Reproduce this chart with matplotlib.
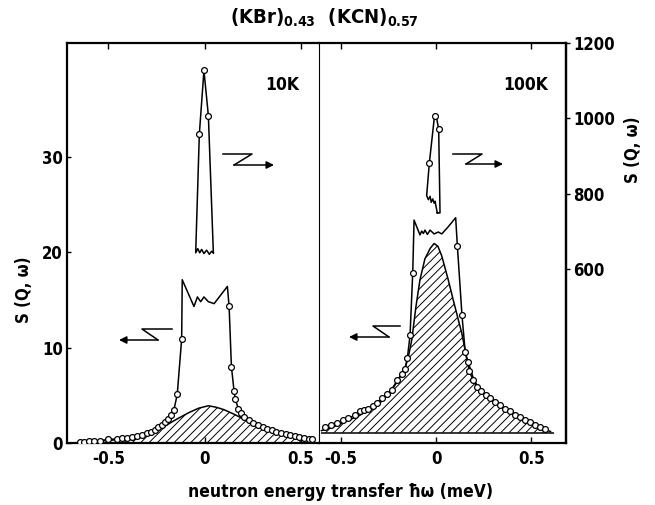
import matplotlib
matplotlib.use('Agg')
import matplotlib.pyplot as plt
from matplotlib.transforms import Affine2D

plt.rcParams['font.family'] = ['DejaVu Sans']
plt.rcParams['font.stretch'] = 'condensed'
plt.rcParams['font.weight'] = 'bold'
plt.rcParams['font.size'] = 12
plt.rcParams['mathtext.fontset'] = 'dejavusans'
plt.rcParams['mathtext.default'] = 'bf'
plt.rcParams['axes.unicode_minus'] = False
plt.rcParams['hatch.linewidth'] = 0.7

# ---------------- 10 K (left panel) ----------------
# measured points (circles), left axis units
c10_x = [-0.648, -0.626, -0.600, -0.575, -0.544, -0.501, -0.458, -0.431, -0.405,
         -0.379, -0.353, -0.327, -0.301, -0.279, -0.258, -0.240, -0.220, -0.205,
         -0.190, -0.174, -0.159, -0.142, -0.119,
         0.128, 0.140, 0.154, 0.160, 0.176, 0.190, 0.206, 0.230, 0.254, 0.278,
         0.302, 0.326, 0.350, 0.374, 0.398, 0.422, 0.446, 0.470, 0.494, 0.518,
         0.542, 0.560]
c10_y = [0.14, 0.14, 0.21, 0.21, 0.24, 0.38, 0.42, 0.49, 0.56,
         0.66, 0.73, 0.84, 1.01, 1.19, 1.36, 1.64, 1.90, 2.20,
         2.50, 2.90, 3.50, 5.10, 10.9,
         14.3, 8.0, 5.4, 4.6, 3.6, 3.1, 2.75, 2.4, 2.1, 1.85,
         1.65, 1.5, 1.35, 1.2, 1.05, 0.92, 0.82, 0.73, 0.64, 0.55,
         0.46, 0.38]
# broken-off top of the low curve (no circles)
cut10_x = [-0.116, -0.055, -0.037, -0.020, -0.003, 0.020, 0.050, 0.119]
cut10_y = [17.1, 14.3, 15.3, 14.8, 15.3, 14.8, 14.6, 16.4]
# quasielastic part (hatched)
q10_x = [-0.65, -0.55, -0.45, -0.38, -0.32, -0.26, -0.20, -0.14, -0.08, -0.03,
         0.02, 0.06, 0.10, 0.15, 0.20, 0.25, 0.30, 0.35, 0.40, 0.45, 0.50, 0.56]
q10_y = [0.10, 0.20, 0.35, 0.55, 0.80, 1.25, 1.85, 2.55, 3.20, 3.65,
         3.90, 3.75, 3.50, 3.05, 2.55, 2.05, 1.60, 1.20, 0.90, 0.65, 0.45, 0.30]
# elastic peak on the right scale
p10_x = [0.046, 0.037, 0.025, 0.011, -0.003, -0.015, -0.025, -0.035, -0.046,
         -0.027, -0.003, 0.020, 0.046]
p10_y = [643, 647, 639, 650, 641, 652, 643, 654, 643, 958, 1127, 1007, 643]
pc10_x = [-0.027, -0.003, 0.020]
pc10_y = [958, 1127, 1007]

# ---------------- 100 K (right panel) ----------------
c100_x = [-0.580, -0.550, -0.520, -0.485, -0.459, -0.424, -0.398, -0.375, -0.354,
          -0.330, -0.310, -0.284, -0.258, -0.232, -0.202, -0.180, -0.162, -0.150,
          -0.136, -0.122,
          0.112, 0.136, 0.153, 0.166, 0.174, 0.195, 0.213, 0.236, 0.260, 0.283,
          0.309, 0.335, 0.361, 0.387, 0.414, 0.440, 0.466, 0.492, 0.518, 0.545,
          0.571]
c100_y = [1.64, 1.90, 2.06, 2.40, 2.60, 2.90, 3.30, 3.45, 3.60,
          3.90, 4.15, 4.70, 5.10, 5.60, 6.60, 7.20, 7.80, 8.90,
          11.3, 17.8,
          20.6, 13.4, 9.5, 8.5, 7.5, 6.6, 5.9, 5.4, 5.0, 4.7,
          4.3, 4.0, 3.6, 3.3, 2.9, 2.7, 2.4, 2.2, 1.9, 1.64,
          1.43]
cut100_x = [-0.115, -0.084, -0.075, -0.066, -0.058, -0.045, -0.031, -0.010,
            0.012, 0.030, 0.064, 0.103]
cut100_y = [23.35, 21.8, 22.2, 21.95, 22.3, 21.85, 22.3, 21.9,
            22.1, 21.9, 22.65, 23.6]
q100_x = [-0.60, -0.55, -0.50, -0.45, -0.40, -0.35, -0.30, -0.25, -0.20, -0.16,
          -0.145, -0.127, -0.105, -0.084, -0.058, -0.030, -0.010, 0.010, 0.030,
          0.064, 0.090, 0.135, 0.160, 0.200, 0.250, 0.300, 0.350, 0.400, 0.450,
          0.500, 0.550, 0.600]
q100_y = [1.30, 1.60, 2.00, 2.45, 2.90, 3.50, 4.20, 5.10, 6.50, 8.00,
          9.00, 10.8, 14.3, 17.1, 19.3, 20.4, 20.9, 20.6, 19.6,
          17.1, 15.0, 11.5, 9.0, 6.5, 5.1, 4.3, 3.7, 3.1, 2.6,
          2.1, 1.6, 1.2]
base100 = 1.08
p100_x = [0.007, 0.000, -0.005, -0.010, -0.017, -0.025, -0.031, -0.040, -0.049,
          -0.035, -0.008, 0.002, 0.014, 0.021, 0.007]
p100_y = [749, 766, 780, 775, 786, 777, 793, 784, 795, 881, 1006, 1004, 971, 749, 749]
pc100_x = [-0.035, -0.006, 0.014]
pc100_y = [881, 1006, 971]

W, H = 655, 505
fig = plt.figure(figsize=(W / 100, H / 100), dpi=100)
axL = fig.add_axes([67 / W, 62 / H, 252 / W, 400 / H])
axR = fig.add_axes([319 / W, 62 / H, 247 / W, 400 / H])
tL = axL.twinx()
tR = axR.twinx()

circ = dict(marker='o', ms=4.2, mfc='white', mec='k', mew=0.9, ls='none', zorder=5)
line = dict(color='k', lw=1.1, zorder=4)


def merged(xa, ya, xb, yb):
    pts = sorted(zip(list(xa) + list(xb), list(ya) + list(yb)))
    return [p[0] for p in pts], [p[1] for p in pts]


# left panel
lx, ly = merged(c10_x, c10_y, cut10_x, cut10_y)
axL.fill_between(q10_x, 0, q10_y, facecolor='none', edgecolor='k', hatch='////', linewidth=0)
axL.plot(q10_x, q10_y, **line)
axL.plot(lx, ly, **line)
axL.plot(c10_x, c10_y, **circ)
tL.plot(p10_x, p10_y, **line)
tL.plot(pc10_x, pc10_y, **circ)

# right panel
rx, ry = merged(c100_x, c100_y, cut100_x, cut100_y)
axR.fill_between(q100_x, base100, q100_y, facecolor='none', edgecolor='k', hatch='////', linewidth=0)
axR.plot(q100_x, q100_y, **line)
axR.hlines(base100, -0.60, 0.62, color='k', lw=1.1)
axR.plot(rx, ry, **line)
axR.plot(c100_x, c100_y, **circ)
tR.plot(p100_x, p100_y, **line)
tR.plot(pc100_x, pc100_y, **circ)

axL.set_xlim(-0.716, 0.596)
axR.set_xlim(-0.613, 0.681)
for a in (axL, axR):
    a.set_ylim(0, 41.9)
    a.set_xticks([-0.5, 0, 0.5])
    a.set_xticklabels(['-0.5', '0', '0.5'])
    a.tick_params(axis='x', which='both', direction='in', length=4, width=1,
                  top=True, labelsize=12, pad=5)
for t in (tL, tR):
    t.set_ylim(138, 1200)

axL.set_yticks([0, 10, 20, 30])
axL.tick_params(axis='y', direction='in', length=3, width=1, labelsize=12, pad=3)
axR.set_yticks([])
tL.set_yticks([])
tR.set_yticks([600, 800, 1000, 1200])
tR.tick_params(axis='y', direction='out', length=3, width=1, labelsize=12, pad=2)

for s in axL.spines.values():
    s.set_linewidth(1.6)
axL.spines['right'].set_visible(False)
for s in axR.spines.values():
    s.set_linewidth(1.6)
axR.spines['left'].set_linewidth(0.8)
for t in (tL, tR):
    for s in t.spines.values():
        s.set_visible(False)
tR.spines['right'].set_visible(True)
tR.spines['right'].set_linewidth(1.6)

# texts (pixel positions)
def fx(px):
    return px / W


def fy(py):
    return 1 - py / H


fig.text(fx(324), fy(18), r'(KBr)$_{0.43}$  (KCN)$_{0.57}$', ha='center', va='center', fontsize=14.5)
fig.text(fx(282), fy(85), '10K', ha='center', va='center', fontsize=12.5)
fig.text(fx(526), fy(85), '100K', ha='center', va='center', fontsize=12.5)
fig.text(fx(341), fy(492), 'neutron energy transfer ħω (meV)', ha='center', va='center', fontsize=12.5)
fig.text(fx(24), fy(290), 'S (Q, ω)', ha='center', va='center', rotation=90, fontsize=12)
fig.text(fx(633), fy(150), 'S (Q, ω)', ha='center', va='center', rotation=90, fontsize=12)

# broken-axis "Z" arrows
pix = Affine2D().scale(1 / W, -1 / H).translate(0, 1) + fig.transFigure


def zarrow(xa, xb, xc, xtip, ytop, ybot):
    fig.add_artist(plt.Line2D([xa, xb, xc], [ytop, ytop, ybot], color='k', lw=1.1,
                              transform=pix))
    fig.add_artist(matplotlib.patches.FancyArrowPatch(
        (xc, ybot), (xtip, ybot), transform=pix, arrowstyle='-|>', mutation_scale=11,
        color='k', lw=1.1, shrinkA=0, shrinkB=0))


zarrow(172, 142, 158, 119, 329, 340)
zarrow(223, 252, 234, 274, 154, 165)
zarrow(400, 373, 389, 349, 326, 337)
zarrow(453, 482, 466, 503, 154, 164)

fig.savefig('out.png', dpi=100)
